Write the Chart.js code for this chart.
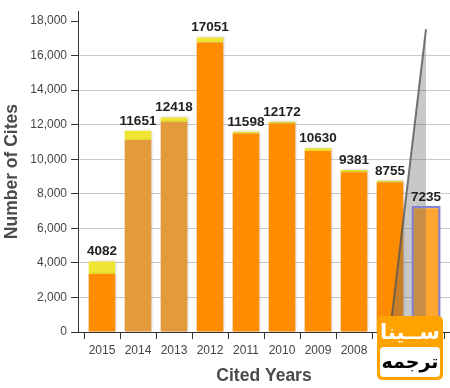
<!DOCTYPE html>
<html><head><meta charset="utf-8">
<script src="https://cdn.jsdelivr.net/npm/chart.js@4.4.0/dist/chart.umd.min.js"></script>
<style>
html,body{margin:0;padding:0;background:#fff;}
#wrap{position:relative;width:450px;height:388px;overflow:hidden;}
#logo{position:absolute;left:377px;top:316px;width:66px;height:64px;background:#FFA300;border-radius:5px;}
#logo .top{position:absolute;left:0;top:2px;width:66px;text-align:center;color:#fff;font:bold 21px "DejaVu Sans",sans-serif;line-height:28px;}
#logo .bot{position:absolute;left:3px;top:31px;width:60px;height:30px;background:#fff;border-radius:4px;text-align:center;color:#000;font:bold 19px "DejaVu Sans",sans-serif;line-height:29px;}
</style></head><body>
<div id="wrap"><canvas id="c" width="450" height="388"></canvas>
<div id="logo"><div class="top" dir="rtl">ســینا</div><div class="bot" dir="rtl">ترجمه</div></div></div>
<script>
const years = ['2015','2014','2013','2012','2011','2010','2009','2008','2007','2006'];
const totalCites = [4082, 11651, 12418, 17051, 11598, 12172, 10630, 9381, 8755, 7235];
const orangeCites = [3352, 11119, 12150, 16751, 11488, 12072, 10480, 9251, 8655, 7155];
const yellowCites = [730, 532, 268, 300, 110, 100, 150, 130, 100, 80];
const yTickValues = [0, 2000, 4000, 6000, 8000, 10000, 12000, 14000, 16000, 18000];

const orangeFill = ['#FF8C00','#E29A3D','#E29A3D','#FF8C00','#FF8C00','#FF8C00','#FF8C00','#FF8C00','#FF8C00','#FFA532'];
const yellowFill = ['#F0E532','#F0E532','#F0E532','#F0E532','#F0E532','#F0E532','#F0E532','#F0E532','#F0E532','#F5EC6A'];
const FAM = '"Liberation Sans", Arial, sans-serif';

const overlay = {
  id: 'overlay',
  beforeDatasetsDraw(chart) {
    const ctx = chart.ctx;
    ctx.save();
    ctx.shadowColor = 'rgba(0,0,0,0.22)';
    ctx.shadowBlur = 3;
    ctx.shadowOffsetX = 1;
    ctx.shadowOffsetY = 0;
  },
  afterDatasetsDraw(chart) {
    const ctx = chart.ctx;
    ctx.restore();
    const xs = chart.scales.x, area = chart.chartArea;
    const meta0 = chart.getDatasetMeta(0), meta1 = chart.getDatasetMeta(1);
    const n = years.length;
    const last = meta1.data[n - 1], lastBase = meta0.data[n - 1];
    // pointer triangle
    const cx = last.x, tipY = area.top + 18, leftX = xs.getPixelForValue(n - 2);
    ctx.save();
    ctx.beginPath();
    ctx.moveTo(cx, tipY);
    ctx.lineTo(cx, area.bottom);
    ctx.lineTo(leftX, area.bottom);
    ctx.closePath();
    ctx.fillStyle = 'rgba(105,105,105,0.37)';
    ctx.fill();
    ctx.beginPath();
    ctx.moveTo(cx, tipY);
    ctx.lineTo(leftX, area.bottom);
    ctx.strokeStyle = 'rgba(85,85,85,0.8)';
    ctx.lineWidth = 2;
    ctx.stroke();
    // highlight outline
    const w = last.width;
    ctx.strokeStyle = '#8282D6';
    ctx.lineWidth = 2;
    ctx.strokeRect(cx - w / 2, last.y, w, lastBase.base - last.y);
    ctx.restore();
    // value labels
    ctx.save();
    ctx.font = 'bold 13.5px ' + FAM;
    ctx.fillStyle = '#222';
    ctx.textAlign = 'center';
    ctx.textBaseline = 'alphabetic';
    meta1.data.forEach((el, i) => {
      ctx.fillText(String(totalCites[i]), el.x, el.y - 6);
    });
    ctx.restore();
  }
};

new Chart(document.getElementById('c'), {
  type: 'bar',
  data: {
    datasets: [
      { label: 'cites', data: years.map((y, i) => ({ x: i, y: orangeCites[i] })), backgroundColor: orangeFill, borderWidth: 0, stack: 's' },
      { label: 'extra', data: years.map((y, i) => ({ x: i, y: yellowCites[i] })), backgroundColor: yellowFill, borderWidth: 0, stack: 's' }
    ]
  },
  options: {
    responsive: false,
    animation: false,
    devicePixelRatio: 1,
    layout: { padding: { top: 5, left: 0, right: 0, bottom: 0 } },
    plugins: { legend: { display: false }, tooltip: { enabled: false } },
    datasets: { bar: { categoryPercentage: 1, barPercentage: 0.74 } },
    scales: {
      x: {
        type: 'linear', stacked: true, min: -2 / 3, max: years.length - 1 + 2 / 3, offset: false,
        afterBuildTicks: s => { s.ticks = years.map((y, i) => ({ value: i })); },
        afterFit: s => { s.height = 56; },
        grid: { drawOnChartArea: false, drawTicks: true, tickLength: 7, tickColor: '#333' },
        border: { display: true, color: '#333', width: 1 },
        ticks: { callback: v => years[v], font: { family: FAM, size: 12 }, color: '#444', padding: 4, maxRotation: 0, autoSkip: false },
        title: { display: true, text: 'Cited Years', font: { family: FAM, size: 17.5, weight: 'bold' }, color: '#4a4a4a', padding: { top: 0, bottom: 1 } }
      },
      y: {
        stacked: true, min: 0, max: 18570,
        afterBuildTicks: s => { s.ticks = yTickValues.map(v => ({ value: v })); },
        afterFit: s => { s.width = 78; },
        grid: {
          color: c => (c.tick && (c.tick.value === 0 || c.tick.value === 18000)) ? 'rgba(0,0,0,0)' : '#C8C8C8',
          tickColor: '#333', tickLength: 7, drawTicks: true
        },
        border: { display: true, color: '#333', width: 1 },
        ticks: { callback: v => v.toLocaleString('en-US'), font: { family: FAM, size: 12 }, color: '#444', padding: 4 },
        title: { display: true, text: 'Number of Cites', font: { family: FAM, size: 17.5, weight: 'bold' }, color: '#4a4a4a', padding: { top: 2, bottom: 0 } }
      }
    }
  },
  plugins: [overlay]
});
</script>
</body></html>
